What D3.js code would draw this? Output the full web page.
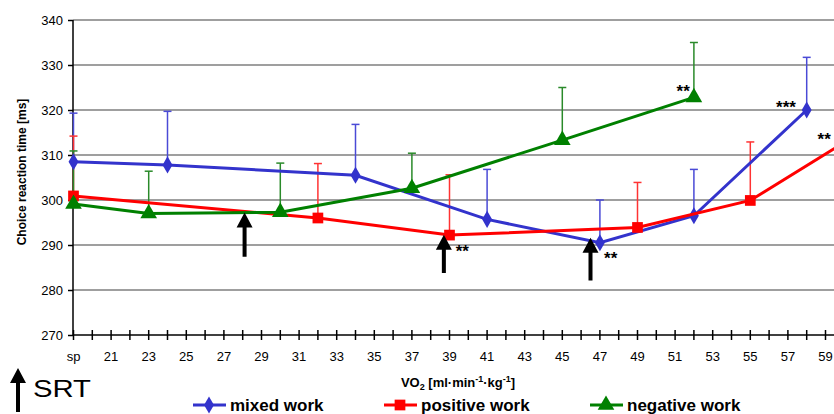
<!DOCTYPE html>
<html><head><meta charset="utf-8">
<script src="https://cdn.jsdelivr.net/npm/d3@7"></script>
<style>body{margin:0;background:#fff}svg{display:block;font-family:Arial,"Liberation Sans",sans-serif}</style>
</head><body><svg id="c" width="834" height="414"></svg>
<script>
// ---- data ----
const mixedX = [19, 24, 34, 41, 47, 52, 58];
const mixedY = [308.5, 307.8, 305.5, 295.7, 290.5, 296.5, 320.0];
const mixedErr = [10.8, 11.9, 11.3, 11.1, 9.5, 10.3, 11.7];

const positiveX = [19, 32, 39, 49, 55, 61];
const positiveY = [300.9, 296.0, 292.2, 293.9, 299.9, 315.4];
const positiveErr = [13.3, 12.1, 13.4, 10.0, 13.0, 12.0];

const negativeX = [19, 23, 30, 37, 45, 52];
const negativeY = [299.1, 297.0, 297.3, 302.6, 313.3, 322.8];
const negativeErr = [11.8, 9.4, 10.9, 7.8, 11.7, 12.2];

const xTickValues = [19, 21, 23, 25, 27, 29, 31, 33, 35, 37, 39, 41, 43, 45, 47, 49, 51, 53, 55, 57, 59];
const xTickLabels = ["sp", "21", "23", "25", "27", "29", "31", "33", "35", "37", "39", "41", "43", "45", "47", "49", "51", "53", "55", "57", "59"];
const yTickValues = [270, 280, 290, 300, 310, 320, 330, 340];

// SRT arrows (x position, tip value, tail value)
const srtX = [28.1, 38.7, 46.5];
const srtTip = [297.2, 292.3, 291.6];
const srtTail = [287.4, 283.8, 282.1];

// significance labels
const starText = ["**", "**", "**", "***", "**"];
const starX = [39.33, 47.22, 51.08, 56.37, 58.58];
const starY = [289.4, 287.7, 325.0, 321.3, 314.2];

const seriesNames = ["mixed work", "positive work", "negative work"];

// ---- drawing ----
const svg = d3.select("#c");
const x = d3.scaleLinear().domain([19, 59]).range([73.5, 825.5]);
const y = d3.scaleLinear().domain([270, 340]).range([335, 20]);

const colors = ["#3333CC", "#FF0000", "#008000"];
const errColors = ["#4a4ad6", "#ff3333", "#2a8a2a"];

// gridlines
svg.append("g").selectAll("line").data(yTickValues.filter(v => v > 270)).join("line")
  .attr("x1", 73).attr("x2", 834).attr("y1", d => y(d)).attr("y2", d => y(d))
  .attr("stroke", "#7f7f7f").attr("stroke-width", 1.5);

// y axis
const yAxis = d3.axisLeft(y).tickValues(yTickValues).tickSize(5).tickPadding(5).tickFormat(d3.format("d"));
const yg = svg.append("g").attr("transform", "translate(73,0)").call(yAxis);
yg.select(".domain").remove();
yg.append("line").attr("x1", 0).attr("x2", 0).attr("y1", y(340)).attr("y2", y(270)).attr("stroke", "#000").attr("stroke-width", 1.5);
yg.selectAll(".tick line").attr("stroke", "#000").attr("stroke-width", 1.5);
yg.selectAll(".tick text").attr("font-size", 13).attr("fill", "#000").attr("font-family", "Arial, 'Liberation Sans'");

// x axis
const allTicks = d3.range(19, 61, 1);
const xg = svg.append("g").attr("transform", `translate(0,${y(270)})`);
xg.append("line").attr("x1", 73).attr("x2", 834).attr("stroke", "#000").attr("stroke-width", 1.5);
xg.selectAll("line.t").data(allTicks).join("line").attr("class", "t")
  .attr("x1", d => x(d)).attr("x2", d => x(d)).attr("y1", -5).attr("y2", 5)
  .attr("stroke", "#000").attr("stroke-width", 1.5);
xg.selectAll("text").data(xTickValues).join("text")
  .attr("x", d => x(d)).attr("y", 26).attr("text-anchor", "middle")
  .attr("font-size", 13).text((d, i) => xTickLabels[i]);

// axis titles
svg.append("text").attr("transform", "translate(26,172) rotate(-90)").attr("text-anchor", "middle")
  .attr("font-size", 12).attr("font-weight", "bold").text("Choice reaction time [ms]");
const xt = svg.append("text").attr("x", 458).attr("y", 387).attr("text-anchor", "middle")
  .attr("font-size", 13).attr("font-weight", "bold");
xt.append("tspan").text("VO");
xt.append("tspan").attr("font-size", 9).attr("dy", 3).text("2");
xt.append("tspan").attr("dy", -3).text(" [ml·min");
xt.append("tspan").attr("font-size", 9).attr("dy", -5).text("-1");
xt.append("tspan").attr("dy", 5).text("·kg");
xt.append("tspan").attr("font-size", 9).attr("dy", -5).text("-1");
xt.append("tspan").attr("dy", 5).text("]");

const series = [
  {x: mixedX, y: mixedY, e: mixedErr},
  {x: positiveX, y: positiveY, e: positiveErr},
  {x: negativeX, y: negativeY, e: negativeErr}
];

const symbols = [d3.symbolDiamond, d3.symbolSquare, d3.symbolTriangle];
const symSizes = [85, 115, 120];

// error bars
series.forEach((s, si) => {
  const g = svg.append("g");
  s.x.forEach((xv, i) => {
    const top = s.y[i] + s.e[i];
    g.append("line").attr("x1", x(xv)).attr("x2", x(xv)).attr("y1", y(s.y[i])).attr("y2", y(top))
      .attr("stroke", errColors[si]).attr("stroke-width", 1.5);
    g.append("line").attr("x1", x(xv) - 4).attr("x2", x(xv) + 4).attr("y1", y(top)).attr("y2", y(top))
      .attr("stroke", errColors[si]).attr("stroke-width", 1.5);
  });
});

// lines + markers
const line = d3.line().x(d => x(d[0])).y(d => y(d[1]));
series.forEach((s, si) => {
  const pts = s.x.map((xv, i) => [xv, s.y[i]]);
  svg.append("path").datum(pts).attr("d", line).attr("fill", "none")
    .attr("stroke", colors[si]).attr("stroke-width", 3);
  svg.append("g").selectAll("path").data(pts).join("path")
    .attr("d", d3.symbol().type(symbols[si]).size(symSizes[si]))
    .attr("transform", d => `translate(${x(d[0])},${y(d[1])})`)
    .attr("fill", colors[si]);
});

// SRT arrows
function arrow(g, cx, tipY, tailY) {
  const hw = 8, hh = 15, sw = 2;
  g.append("path").attr("d",
    `M${cx},${tipY} L${cx + hw},${tipY + hh} L${cx + sw},${tipY + hh} L${cx + sw},${tailY} L${cx - sw},${tailY} L${cx - sw},${tipY + hh} L${cx - hw},${tipY + hh} Z`)
    .attr("fill", "#000");
}
const ag = svg.append("g");
srtX.forEach((xv, i) => arrow(ag, x(xv), y(srtTip[i]), y(srtTail[i])));

// significance stars
svg.append("g").selectAll("text").data(starText).join("text")
  .attr("x", (d, i) => x(starX[i])).attr("y", (d, i) => y(starY[i]) + 9)
  .attr("font-size", 17).attr("font-weight", "bold").text(d => d);

// SRT legend
arrow(svg.append("g"), 18, 368, 412);
svg.append("text").attr("x", 33).attr("y", 397).attr("font-size", 23)
  .attr("textLength", 58).attr("lengthAdjust", "spacingAndGlyphs").text("SRT");

// series legend
const legX = [193, 384, 590];
seriesNames.forEach((n, si) => {
  const g = svg.append("g").attr("transform", `translate(${legX[si]},405)`);
  g.append("line").attr("x1", 0).attr("x2", 33).attr("stroke", colors[si]).attr("stroke-width", 3);
  g.append("path").attr("d", d3.symbol().type(symbols[si]).size(symSizes[si])).attr("transform", "translate(16,0)").attr("fill", colors[si]);
  g.append("text").attr("x", 37).attr("y", 6).attr("font-size", 17).attr("font-weight", "bold").text(n);
});
</script></body></html>
